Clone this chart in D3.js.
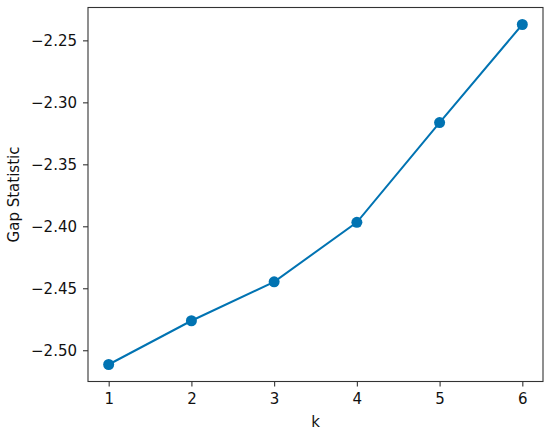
<!DOCTYPE html>
<html>
<head>
<meta charset="utf-8">
<script src="https://cdn.jsdelivr.net/npm/d3@7"></script>
<style>
  body { margin: 0; background: #fff; }
  svg { display: block; font-family: "DejaVu Sans", sans-serif; }
</style>
</head>
<body>
<svg id="chart" width="550" height="435"></svg>
<script>
const kValues = [1, 2, 3, 4, 5, 6];
const gapValues = [-2.5115, -2.4762, -2.4448, -2.3968, -2.3163, -2.2372];
const xTicks = [1, 2, 3, 4, 5, 6];
const yTicks = [-2.50, -2.45, -2.40, -2.35, -2.30, -2.25];
const xLabel = "k";
const yLabel = "Gap Statistic";

const svg = d3.select("#chart");
const margin = { left: 88, right: 7, top: 7.5, bottom: 53.5 };
const W = 550, H = 435;
const x = d3.scaleLinear().domain([0.75, 6.25]).range([margin.left, W - margin.right]);
const yMin = d3.min(gapValues), yMax = d3.max(gapValues), pad = (yMax - yMin) * 0.05;
const y = d3.scaleLinear().domain([yMin - pad, yMax + pad]).range([H - margin.bottom, margin.top]);

const fmt = v => (v < 0 ? "\u2212" : "") + Math.abs(v).toFixed(2);
const axisColor = "#333";

const gx = svg.append("g").attr("transform", `translate(0,${H - margin.bottom})`)
  .call(d3.axisBottom(x).tickValues(xTicks).tickFormat(d3.format("d")).tickSize(5).tickPadding(7));
const gy = svg.append("g").attr("transform", `translate(${margin.left},0)`)
  .call(d3.axisLeft(y).tickValues(yTicks).tickFormat(fmt).tickSize(5).tickPadding(6));
[gx, gy].forEach(g => {
  g.select(".domain").remove();
  g.selectAll("line").attr("stroke", axisColor).attr("stroke-width", 1.1);
  g.selectAll("text").attr("fill", "#111").style("font-size", "15px").style("font-family", "DejaVu Sans");
});

svg.append("rect")
  .attr("x", margin.left).attr("y", margin.top)
  .attr("width", W - margin.left - margin.right)
  .attr("height", H - margin.top - margin.bottom)
  .attr("fill", "none").attr("stroke", axisColor).attr("stroke-width", 1.1);

const color = "#0173B2";
svg.append("path").datum(kValues.map((k, i) => [k, gapValues[i]]))
  .attr("fill", "none").attr("stroke", color).attr("stroke-width", 2)
  .attr("d", d3.line().x(d => x(d[0])).y(d => y(d[1])));
svg.selectAll("circle.pt").data(kValues).enter().append("circle")
  .attr("class", "pt")
  .attr("cx", d => x(d)).attr("cy", (d, i) => y(gapValues[i]))
  .attr("r", 5.5).attr("fill", color);

svg.append("text").attr("x", (margin.left + W - margin.right) / 2).attr("y", 427)
  .attr("text-anchor", "middle").attr("fill", "#111").style("font-size", "15px").text(xLabel);
svg.append("text").attr("transform", `translate(19,${(margin.top + H - margin.bottom) / 2}) rotate(-90)`)
  .attr("text-anchor", "middle").attr("fill", "#111").style("font-size", "15px").text(yLabel);
</script>
</body>
</html>
